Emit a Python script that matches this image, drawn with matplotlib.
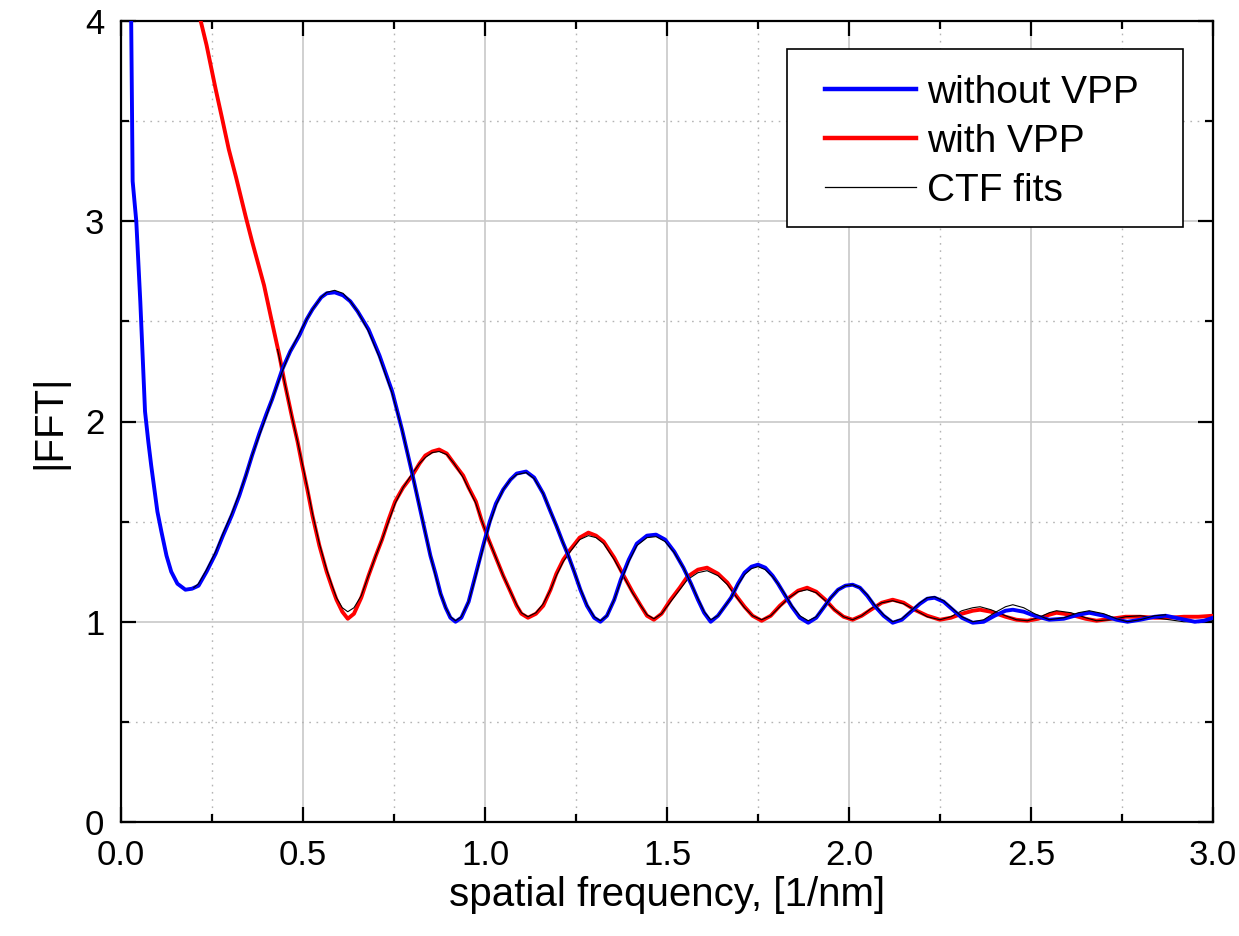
import matplotlib
matplotlib.use("Agg")
import matplotlib.pyplot as plt
from matplotlib.patches import Rectangle
from matplotlib.ticker import MultipleLocator

plt.rcParams["font.family"] = ["Liberation Sans", "DejaVu Sans"]

# |FFT| without phase plate (blue)
blue_x = [0.026, 0.028, 0.030, 0.032, 0.042, 0.053, 0.060, 0.066, 0.075, 0.083,
          0.100, 0.111, 0.125, 0.138, 0.155, 0.177, 0.195, 0.213, 0.235, 0.260,
          0.280, 0.304, 0.325, 0.343, 0.360, 0.380, 0.400, 0.415, 0.443, 0.465,
          0.490, 0.510, 0.526, 0.550, 0.565, 0.587, 0.610, 0.630, 0.650, 0.680,
          0.710, 0.745, 0.772, 0.800, 0.828, 0.850, 0.864, 0.878, 0.892, 0.905,
          0.919, 0.935, 0.955, 0.975, 0.995, 1.013, 1.030, 1.050, 1.070, 1.087,
          1.113, 1.135, 1.160, 1.180, 1.196, 1.213, 1.229, 1.245, 1.262, 1.280,
          1.300, 1.317, 1.335, 1.355, 1.373, 1.395, 1.417, 1.445, 1.470, 1.495,
          1.520, 1.545, 1.566, 1.585, 1.602, 1.620, 1.640, 1.660, 1.676, 1.695,
          1.713, 1.732, 1.750, 1.770, 1.790, 1.805, 1.825, 1.843, 1.865, 1.888,
          1.910, 1.930, 1.950, 1.970, 1.990, 2.010, 2.030, 2.050, 2.070, 2.095,
          2.120, 2.145, 2.170, 2.195, 2.215, 2.235, 2.260, 2.285, 2.310, 2.340,
          2.370, 2.400, 2.430, 2.450, 2.480, 2.510, 2.550, 2.590, 2.630, 2.660,
          2.700, 2.735, 2.765, 2.800, 2.840, 2.870, 2.910, 2.950, 2.975, 3.000]
blue_y = [4.40, 4.00, 3.60, 3.20, 3.00, 2.60, 2.30, 2.05, 1.90, 1.78,
          1.55, 1.45, 1.33, 1.25, 1.19, 1.16, 1.165, 1.18, 1.25, 1.34,
          1.43, 1.53, 1.63, 1.73, 1.83, 1.94, 2.04, 2.11, 2.26, 2.35,
          2.43, 2.51, 2.56, 2.62, 2.64, 2.645, 2.63, 2.60, 2.55, 2.46,
          2.33, 2.15, 1.96, 1.74, 1.51, 1.33, 1.24, 1.14, 1.07, 1.02,
          1.00, 1.02, 1.10, 1.24, 1.38, 1.50, 1.59, 1.66, 1.71, 1.74,
          1.75, 1.72, 1.64, 1.55, 1.48, 1.40, 1.33, 1.25, 1.16, 1.08,
          1.02, 1.00, 1.03, 1.11, 1.21, 1.31, 1.39, 1.43, 1.435, 1.41,
          1.35, 1.27, 1.19, 1.11, 1.045, 1.00, 1.03, 1.08, 1.12, 1.19,
          1.245, 1.275, 1.285, 1.27, 1.23, 1.19, 1.13, 1.075, 1.02, 0.995,
          1.02, 1.07, 1.12, 1.16, 1.18, 1.185, 1.17, 1.13, 1.08, 1.03,
          0.995, 1.01, 1.05, 1.09, 1.115, 1.12, 1.10, 1.06, 1.02, 0.995,
          1.00, 1.03, 1.055, 1.06, 1.05, 1.03, 1.01, 1.015, 1.035, 1.045,
          1.03, 1.01, 1.00, 1.01, 1.025, 1.03, 1.015, 1.00, 1.005, 1.02]

# |FFT| with phase plate (red)
red_x = [0.212, 0.219, 0.235, 0.260, 0.277, 0.296, 0.316, 0.343, 0.360, 0.393,
         0.412, 0.435, 0.450, 0.470, 0.485, 0.498, 0.512, 0.526, 0.545, 0.565,
         0.580, 0.592, 0.608, 0.623, 0.640, 0.660, 0.680, 0.700, 0.717, 0.735,
         0.753, 0.775, 0.800, 0.820, 0.836, 0.855, 0.874, 0.895, 0.915, 0.940,
         0.955, 0.975, 0.990, 1.010, 1.030, 1.050, 1.070, 1.087, 1.100, 1.118,
         1.140, 1.160, 1.180, 1.196, 1.215, 1.234, 1.260, 1.284, 1.305, 1.326,
         1.355, 1.381, 1.405, 1.428, 1.445, 1.464, 1.485, 1.510, 1.535, 1.556,
         1.585, 1.610, 1.640, 1.666, 1.690, 1.713, 1.735, 1.760, 1.785, 1.810,
         1.835, 1.860, 1.885, 1.910, 1.935, 1.960, 1.985, 2.010, 2.035, 2.060,
         2.090, 2.120, 2.150, 2.180, 2.215, 2.250, 2.280, 2.310, 2.340, 2.360,
         2.390, 2.430, 2.460, 2.490, 2.520, 2.550, 2.570, 2.610, 2.650, 2.680,
         2.720, 2.760, 2.800, 2.840, 2.880, 2.920, 2.960, 3.000]
red_y = [4.10, 4.00, 3.88, 3.66, 3.52, 3.36, 3.22, 3.02, 2.90, 2.68,
         2.52, 2.33, 2.19, 2.02, 1.90, 1.78, 1.66, 1.53, 1.38, 1.25,
         1.17, 1.11, 1.05, 1.015, 1.04, 1.12, 1.23, 1.33, 1.41, 1.51,
         1.60, 1.67, 1.73, 1.79, 1.83, 1.85, 1.86, 1.84, 1.79, 1.73,
         1.67, 1.60, 1.51, 1.41, 1.32, 1.23, 1.15, 1.08, 1.04, 1.02,
         1.04, 1.08, 1.16, 1.24, 1.31, 1.36, 1.42, 1.445, 1.43, 1.40,
         1.32, 1.23, 1.15, 1.08, 1.03, 1.01, 1.04, 1.11, 1.17, 1.225,
         1.26, 1.27, 1.24, 1.195, 1.13, 1.075, 1.03, 1.005, 1.03, 1.08,
         1.12, 1.155, 1.17, 1.15, 1.11, 1.06, 1.025, 1.01, 1.03, 1.06,
         1.095, 1.11, 1.095, 1.06, 1.03, 1.01, 1.02, 1.04, 1.055, 1.06,
         1.05, 1.025, 1.01, 1.005, 1.015, 1.035, 1.045, 1.035, 1.015, 1.005,
         1.015, 1.025, 1.025, 1.02, 1.02, 1.025, 1.025, 1.03]

# CTF fit to the blue curve
fit_blue_x = [0.200, 0.213, 0.235, 0.260, 0.280, 0.304, 0.325, 0.343, 0.360, 0.380,
              0.400, 0.415, 0.443, 0.465, 0.490, 0.510, 0.526, 0.550, 0.565, 0.587,
              0.610, 0.630, 0.650, 0.680, 0.710, 0.745, 0.772, 0.800, 0.828, 0.850,
              0.864, 0.878, 0.892, 0.905, 0.919, 0.935, 0.955, 0.975, 0.995, 1.013,
              1.030, 1.050, 1.070, 1.087, 1.113, 1.135, 1.160, 1.180, 1.196, 1.213,
              1.229, 1.245, 1.262, 1.280, 1.300, 1.317, 1.335, 1.355, 1.373, 1.395,
              1.417, 1.445, 1.470, 1.495, 1.520, 1.545, 1.566, 1.585, 1.602, 1.620,
              1.640, 1.660, 1.676, 1.695, 1.713, 1.732, 1.750, 1.770, 1.790, 1.805,
              1.825, 1.843, 1.865, 1.888, 1.910, 1.930, 1.950, 1.970, 1.990, 2.010,
              2.030, 2.050, 2.070, 2.095, 2.120, 2.145, 2.170, 2.195, 2.215, 2.235,
              2.260, 2.285, 2.310, 2.340, 2.370, 2.400, 2.430, 2.450, 2.480, 2.510,
              2.550, 2.590, 2.630, 2.660, 2.700, 2.735, 2.765, 2.800, 2.840, 2.870]
fit_blue_y = [1.17, 1.19, 1.26, 1.35, 1.44, 1.54, 1.64, 1.73, 1.83, 1.93,
              2.03, 2.11, 2.25, 2.35, 2.44, 2.51, 2.56, 2.62, 2.645, 2.655,
              2.64, 2.60, 2.55, 2.45, 2.32, 2.14, 1.96, 1.74, 1.51, 1.33,
              1.23, 1.14, 1.07, 1.025, 1.005, 1.025, 1.10, 1.23, 1.37, 1.49,
              1.58, 1.66, 1.71, 1.735, 1.745, 1.715, 1.64, 1.55, 1.48, 1.40,
              1.33, 1.25, 1.165, 1.085, 1.025, 1.005, 1.03, 1.11, 1.20, 1.30,
              1.38, 1.42, 1.425, 1.40, 1.345, 1.27, 1.19, 1.115, 1.05, 1.01,
              1.03, 1.08, 1.12, 1.185, 1.235, 1.265, 1.275, 1.26, 1.225, 1.19,
              1.135, 1.08, 1.03, 1.005, 1.025, 1.07, 1.12, 1.16, 1.18, 1.185,
              1.17, 1.135, 1.085, 1.035, 1.00, 1.015, 1.055, 1.095, 1.12, 1.125,
              1.105, 1.065, 1.025, 1.00, 1.01, 1.045, 1.075, 1.085, 1.07, 1.04,
              1.01, 1.02, 1.045, 1.055, 1.04, 1.015, 1.00, 1.01, 1.03, 1.035]

# CTF fit to the red curve
fit_red_x = [0.430, 0.450, 0.470, 0.485, 0.498, 0.512, 0.526, 0.545, 0.565, 0.580,
             0.592, 0.608, 0.623, 0.640, 0.660, 0.680, 0.700, 0.717, 0.735, 0.753,
             0.775, 0.800, 0.820, 0.836, 0.855, 0.874, 0.895, 0.915, 0.940, 0.955,
             0.975, 0.990, 1.010, 1.030, 1.050, 1.070, 1.087, 1.100, 1.118, 1.140,
             1.160, 1.180, 1.196, 1.215, 1.234, 1.260, 1.284, 1.305, 1.326, 1.355,
             1.381, 1.405, 1.428, 1.445, 1.464, 1.485, 1.510, 1.535, 1.556, 1.585,
             1.610, 1.640, 1.666, 1.690, 1.713, 1.735, 1.760, 1.785, 1.810, 1.835,
             1.860, 1.885, 1.910, 1.935, 1.960, 1.985, 2.010, 2.035, 2.060, 2.090,
             2.120, 2.150, 2.180, 2.215, 2.250, 2.280, 2.310, 2.340, 2.360, 2.390,
             2.430, 2.460, 2.490, 2.520, 2.550, 2.570, 2.610, 2.650, 2.680, 2.720,
             2.760, 2.800, 2.840, 2.880, 2.920, 2.960, 3.000]
fit_red_y = [2.36, 2.19, 2.02, 1.90, 1.79, 1.67, 1.54, 1.39, 1.26, 1.18,
             1.12, 1.07, 1.05, 1.07, 1.13, 1.23, 1.33, 1.41, 1.50, 1.59,
             1.67, 1.74, 1.79, 1.82, 1.845, 1.85, 1.835, 1.79, 1.72, 1.665,
             1.59, 1.51, 1.41, 1.32, 1.23, 1.15, 1.085, 1.045, 1.025, 1.045,
             1.09, 1.16, 1.23, 1.30, 1.35, 1.41, 1.43, 1.42, 1.39, 1.31,
             1.225, 1.145, 1.08, 1.035, 1.015, 1.04, 1.10, 1.16, 1.21, 1.245,
             1.255, 1.23, 1.185, 1.125, 1.07, 1.03, 1.01, 1.03, 1.075, 1.12,
             1.15, 1.16, 1.145, 1.105, 1.06, 1.025, 1.01, 1.03, 1.065, 1.095,
             1.105, 1.09, 1.06, 1.025, 1.01, 1.025, 1.055, 1.07, 1.075, 1.06,
             1.03, 1.01, 1.005, 1.02, 1.045, 1.055, 1.045, 1.02, 1.005, 1.01,
             1.025, 1.03, 1.02, 1.01, 1.00, 1.00, 1.005]

labels = ["without VPP", "with VPP", "CTF fits"]

fig = plt.figure(figsize=(12.39, 9.36), dpi=100)
ax = fig.add_axes([121 / 1239, 114 / 936, 1092 / 1239, 801 / 936])

ax.plot(red_x, red_y, color="#ff0000", lw=2.8, zorder=3)
ax.plot(fit_red_x, fit_red_y, color="black", lw=0.8, zorder=3.1)
ax.plot(blue_x, blue_y, color="#0000ff", lw=2.8, zorder=3.2)
ax.plot(fit_blue_x, fit_blue_y, color="black", lw=0.8, zorder=3.3)

ax.set_xlim(0, 3.0)
ax.set_ylim(0, 4)
ax.xaxis.set_major_locator(MultipleLocator(0.5))
ax.xaxis.set_minor_locator(MultipleLocator(0.25))
ax.yaxis.set_major_locator(MultipleLocator(1))
ax.yaxis.set_minor_locator(MultipleLocator(0.5))
ax.xaxis.set_major_formatter(lambda v, p: f"{v:.1f}")
ax.yaxis.set_major_formatter(lambda v, p: f"{v:.0f}")

ax.grid(which="major", color="#c8c8c8", lw=1.2)
ax.grid(which="minor", color="#b4b4b4", lw=1.0, ls=(0, (1.2, 4)))
ax.set_axisbelow(True)

ax.tick_params(which="both", direction="in", top=True, right=True,
               width=1.6, color="black")
ax.tick_params(which="major", length=11, labelsize=25, pad=12)
ax.tick_params(which="minor", length=6)
for s in ax.spines.values():
    s.set_linewidth(1.6)

ax.set_xlabel("spatial frequency, [1/nm]", fontsize=29, labelpad=3)
ax.set_ylabel("|FFT|", fontsize=29, labelpad=12)

# legend box drawn by hand, entries on top of it
box = Rectangle((0.610, 0.743), 0.3625, 0.222, transform=ax.transAxes,
                facecolor="white", edgecolor="black", lw=1.2, zorder=5)
ax.add_patch(box)
h1, = ax.plot([], [], color="#0000ff", lw=3.2)
h2, = ax.plot([], [], color="#ff0000", lw=3.2)
h3, = ax.plot([], [], color="black", lw=0.9)
leg = ax.legend([h1, h2, h3], labels, loc="upper left",
                bbox_to_anchor=(0.6447, 0.9326), frameon=False,
                fontsize=28, borderpad=0, borderaxespad=0,
                handlelength=2.34, handletextpad=0.28, labelspacing=0.33)
leg.set_zorder(6)

fig.savefig("out.png", dpi=100)
